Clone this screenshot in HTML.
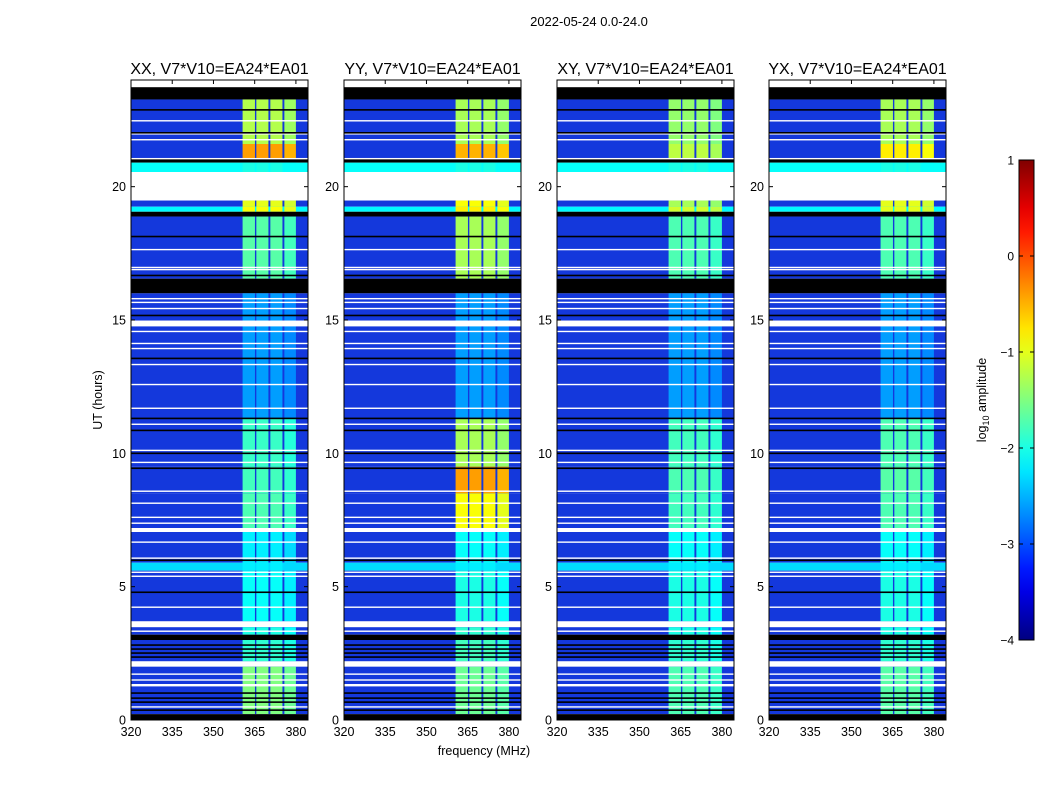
<!DOCTYPE html>
<html><head><meta charset="utf-8"><title>Dynamic spectrum</title>
<style>
html,body{margin:0;padding:0;background:#fff;}
svg{display:block;font-family:"Liberation Sans",sans-serif;}
</style></head>
<body>
<svg id="fig" width="1050" height="800" viewBox="0 0 1050 800" xmlns="http://www.w3.org/2000/svg">
<rect width="1050" height="800" fill="#fff"/>
<text x="589" y="26" font-size="13" text-anchor="middle">2022-05-24 0.0-24.0</text>
<text x="484" y="755" font-size="12.5" text-anchor="middle">frequency (MHz)</text>
<text transform="translate(102,400) rotate(-90)" font-size="12.5" text-anchor="middle">UT (hours)</text>
<g id="panels"></g>
<g id="cbar"></g>
</svg>
<script>
// ---- data ----
const panelTitles = ["XX, V7*V10=EA24*EA01","YY, V7*V10=EA24*EA01","XY, V7*V10=EA24*EA01","YX, V7*V10=EA24*EA01"];
const xTicks = [320,335,350,365,380];
const yTicks = [0,5,10,15,20];
const cbTicks = [1,0,-1,-2,-3,-4];
// time segments (hours), 27 entries
const segStart = [23.73,23.27,21.6,21.05,20.9,20.55,19.48,19.25,19.06,18.88,16.55,16.0,11.3,9.5,8.5,7.2,7.05,5.9,5.6,3.7,3.48,3.2,3.0,2.2,2.0,0.22,0];
const segEnd   = [24,23.73,23.27,21.6,21.05,20.9,20.55,19.48,19.25,19.06,18.88,16.55,16.0,11.3,9.5,8.5,7.2,7.05,5.9,5.6,3.7,3.48,3.2,3.0,2.2,2.0,0.22];
const segType  = ["w","k","d","d","k","c","w","d","c","k","d","k","d","d","d","d","w","d","c","d","w","d","k","d","w","d","k"];
const segBg    = [0,0,-2.95,-2.95,0,-2.1,0,-2.95,-2.15,0,-2.95,0,-2.95,-2.95,-2.95,-2.95,0,-2.95,-2.3,-2.95,0,-2.95,0,-2.95,0,-2.95,0];
const rfiXX = [0,0,-1.25,-0.4,0,-2.0,0,-1.0,-0.9,0,-1.7,0,-2.6,-1.85,-1.8,-1.75,0,-2.2,-2.2,-2.1,0,-2.0,0,-1.9,0,-1.5,0];
const rfiYY = [0,0,-1.3,-0.5,0,-2.0,0,-0.9,-0.8,0,-1.3,0,-2.6,-1.3,-0.4,-0.9,0,-2.1,-2.2,-2.0,0,-1.9,0,-1.8,0,-1.6,0];
const rfiXY = [0,0,-1.4,-1.2,0,-2.0,0,-1.3,-1.1,0,-1.75,0,-2.6,-1.8,-1.75,-1.8,0,-2.1,-2.2,-2.0,0,-2.0,0,-1.9,0,-1.75,0];
const rfiYX = [0,0,-1.3,-0.8,0,-2.0,0,-1.0,-1.0,0,-1.75,0,-2.6,-1.75,-1.7,-1.75,0,-2.1,-2.2,-2.0,0,-2.0,0,-1.9,0,-1.7,0];
// RFI channel blocks (MHz)
const chanStart = [360.6,365.6,370.7,375.8];
const chanEnd   = [365.1,370.0,375.1,380.0];
// thin flag lines (hours)
const whiteLines = [22.47,21.98,21.76,21.05,17.64,16.97,16.89,15.8,15.66,15.43,14.57,14.12,13.93,13.33,12.58,11.69,11.09,10.11,9.66,8.58,8.13,7.6,7.38,6.67,6.07,5.54,5.39,4.23,3.33,1.72,1.5,1.31,0.49];
const blackLines = [22.88,22.02,18.13,16.67,15.17,13.56,11.31,10.86,10.0,9.44,5.99,4.79,2.81,2.66,2.51,2.36,1.01,0.82,0.67,0.37];
const whiteBands = [[14.98,14.76],[1.35,1.26]];

// ---- helpers ----
const NS="http://www.w3.org/2000/svg";
function jet(v){
  let t=(v+4)/5; t=Math.max(0,Math.min(1,t));
  const f=x=>Math.round(255*Math.max(0,Math.min(1,x)));
  const r=f(1.5-Math.abs(4*t-3)), g=f(1.5-Math.abs(4*t-2)), b=f(1.5-Math.abs(4*t-1));
  return `rgb(${r},${g},${b})`;
}
const rfiByPanel=[rfiXX,rfiYY,rfiXY,rfiYX];
const panelX=[131,344,557,769], PW=177, PT=80, PB=720;
const fMin=320, fMax=384.4, tMax=24;
function xs(px0,f){return px0+(f-fMin)/(fMax-fMin)*PW;}
function ys(h){return PB-h/tMax*(PB-PT);}
function mk(tag,attrs,parent){const e=document.createElementNS(NS,tag);for(const k in attrs)e.setAttribute(k,attrs[k]);parent.appendChild(e);return e;}

const gp=document.getElementById('panels');
panelX.forEach((x0,p)=>{
  const g=mk('g',{},gp);
  
  
  const rfi=rfiByPanel[p];
  for(let i=0;i<segStart.length;i++){
    const y1=ys(segEnd[i]), y2=ys(segStart[i]);
    const t=segType[i];
    let fill = t==="w"?"#fff": t==="k"?"#000": t==="c"?jet(segBg[i]):"#1438dc";
    const r=mk('rect',{x:x0,y:y1,width:PW,height:y2-y1,fill:fill},g);
    
    
    if(t==="d"||t==="c"){
      for(let c=0;c<chanStart.length;c++){
        const xa=xs(x0,chanStart[c]), xb=xs(x0,chanEnd[c]);
        const cr=mk('rect',{x:xa,y:y1,width:xb-xa,height:y2-y1,fill:jet(rfi[i]+(c===3?-0.1:0))},g);
        
        
      }
    }
  }
  whiteBands.forEach(b=>{
    const wb=mk('rect',{x:x0,y:ys(b[0]),width:PW,height:ys(b[1])-ys(b[0]),fill:'#fff'},g);
    
    
  });
  whiteLines.forEach(h=>{
    const l=mk('rect',{x:x0,y:ys(h)-0.7,width:PW,height:1.4,fill:'#fff'},g);
    
    
  });
  blackLines.forEach(h=>{
    const l=mk('rect',{x:x0,y:ys(h)-0.8,width:PW,height:1.6,fill:'#000'},g);
    
    
  });
  const fr=mk('rect',{x:x0,y:PT,width:PW,height:PB-PT,fill:'none',stroke:'#000','stroke-width':1},g);
  
  
  const tt=mk('text',{x:x0+PW/2,y:74,'font-size':16,'text-anchor':'middle'},g);
  tt.textContent=panelTitles[p];
  
  
  xTicks.forEach(f=>{
    const x=xs(x0,f);
    mk('line',{x1:x,y1:PB,x2:x,y2:PB-4,stroke:'#000'},g);
    mk('line',{x1:x,y1:PT,x2:x,y2:PT+4,stroke:'#000'},g);
    const tl=mk('text',{x:x,y:PB+16,'font-size':12.5,'text-anchor':'middle'},g);
    tl.textContent=f;
    
    
  });
  yTicks.forEach(h=>{
    const y=ys(h);
    mk('line',{x1:x0,y1:y,x2:x0+4,y2:y,stroke:'#000'},g);
    mk('line',{x1:x0+PW,y1:y,x2:x0+PW-4,y2:y,stroke:'#000'},g);
    const tl=mk('text',{x:x0-5,y:y+4.5,'font-size':12.5,'text-anchor':'end'},g);
    tl.textContent=h;
    
    
  });
});

// colorbar
const cb=document.getElementById('cbar');
const CX=1019, CW=15, CT=160, CBt=640;
const defs=mk('defs',{},cb);
const lg=mk('linearGradient',{id:'jetg',x1:0,y1:1,x2:0,y2:0},defs);
for(let i=0;i<=20;i++){mk('stop',{offset:i/20,'stop-color':jet(-4+5*i/20)},lg);}
const cr=mk('rect',{x:CX,y:CT,width:CW,height:CBt-CT,fill:'url(#jetg)',stroke:'#000','stroke-width':1},cb);


cbTicks.forEach(v=>{
  const y=CBt-(v+4)/5*(CBt-CT);
  mk('line',{x1:CX,y1:y,x2:CX+4,y2:y,stroke:'#000'},cb);
  mk('line',{x1:CX+CW,y1:y,x2:CX+CW-4,y2:y,stroke:'#000'},cb);
  const tl=mk('text',{x:CX-5,y:y+4.5,'font-size':12,'text-anchor':'end'},cb);
  tl.textContent=v<0?'\u2212'+(-v):String(v);
  
  
});
const cl=mk('text',{transform:'translate(986,400) rotate(-90)','font-size':12.5,'text-anchor':'middle'},cb);
cl.innerHTML='log<tspan font-size="9" dy="3">10</tspan><tspan dy="-3"> amplitude</tspan>';


</script>
</body></html>
